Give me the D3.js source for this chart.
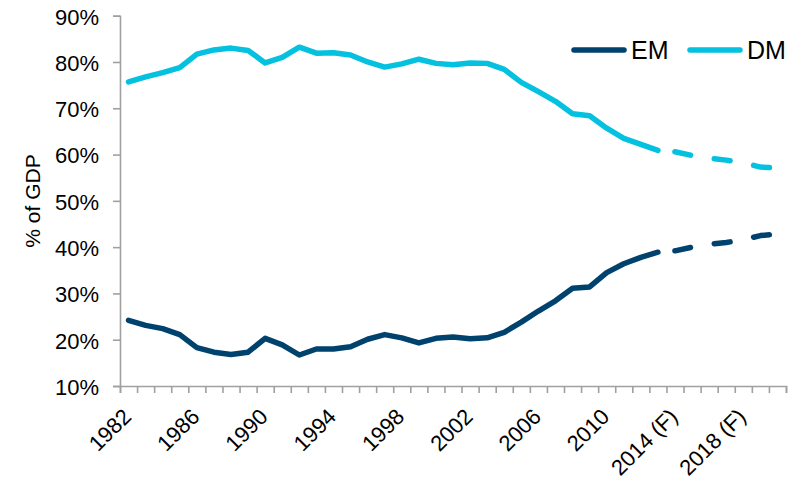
<!DOCTYPE html>
<html>
<head>
<meta charset="utf-8">
<script src="https://cdn.jsdelivr.net/npm/d3@7/dist/d3.min.js"></script>
<style>
  body { margin: 0; background: #fff; }
  svg { display: block; font-family: "Liberation Sans", Arial, sans-serif; }
  .axis path, .axis line { stroke: #a0a0a0; stroke-width: 1.6px; }
</style>
</head>
<body>
<script>
// Data, % of GDP
var years = d3.range(1982, 2021);
var forecastFrom = 2013;   // dashed part starts here
var tickLabels = ["1982", "1986", "1990", "1994", "1998", "2002", "2006", "2010", "2014 (F)", "2018 (F)"];
var yTicks = [10, 20, 30, 40, 50, 60, 70, 80, 90];

var em = [24.2, 23.1, 22.4, 21.1, 18.3, 17.3, 16.8, 17.3, 20.3, 18.9,
          16.7, 18.0, 18.0, 18.5, 20.1, 21.1, 20.4, 19.3, 20.3, 20.6,
          20.2, 20.4, 21.6, 23.8, 26.2, 28.4, 31.1, 31.4, 34.5, 36.4,
          37.8, 38.9, 39.2, 40.0, 40.6, 41.0, 41.6, 42.5, 42.8];
var dm = [75.7, 76.8, 77.7, 78.8, 81.7, 82.6, 83.0, 82.5, 79.8, 81.0,
          83.2, 81.9, 82.0, 81.5, 80.0, 78.9, 79.6, 80.6, 79.7, 79.4,
          79.8, 79.7, 78.4, 75.6, 73.6, 71.5, 68.8, 68.4, 65.7, 63.5,
          62.2, 60.9, 60.6, 59.8, 59.2, 58.8, 58.2, 57.3, 57.1];

var seriesNames = ["EM", "DM"];
var colors = ["#00426e", "#03c1df"];

//Define SVG
var width = 804, height = 481;
var svg = d3.select("body").append("svg")
    .attr("width", width)
    .attr("height", height);

//Define Scales (category axis, points sit between tick marks)
var xScale = d3.scaleLinear().domain([0, years.length]).range([120, 786]);
var yScale = d3.scaleLinear().domain([10, 90]).range([386, 15.7]);
function xPos(i) { return xScale(i + 0.5); }

//Define Axis
var xAxis = d3.axisBottom(xScale)
    .tickValues(d3.range(years.length + 1))
    .tickSize(7)
    .tickFormat("");
var yAxis = d3.axisLeft(yScale)
    .tickValues(yTicks)
    .tickSize(7)
    .tickFormat("");

svg.append("g")
    .attr("class", "x axis")
    .attr("transform", "translate(0," + yScale(10) + ")")
    .call(xAxis);

svg.append("g")
    .attr("class", "y axis")
    .attr("transform", "translate(" + xScale(0) + ",0)")
    .call(yAxis);

// y tick labels
svg.selectAll(".ylab")
    .data(yTicks)
    .enter().append("text")
    .attr("class", "ylab")
    .attr("x", 99)
    .attr("y", function(d) { return yScale(d); })
    .attr("dy", "0.4em")
    .style("text-anchor", "end")
    .attr("font-size", "22px")
    .attr("fill", "#000")
    .text(function(d) { return d + "%"; });

// x tick labels, rotated
svg.selectAll(".xlab")
    .data(tickLabels)
    .enter().append("text")
    .attr("class", "xlab")
    .attr("transform", function(d) {
        var i = years.indexOf(+d.slice(0, 4));
        return "translate(" + (xPos(i) + 4) + "," + (yScale(10) + 32) + ") rotate(-45)";
    })
    .style("text-anchor", "end")
    .attr("font-size", "22px")
    .attr("fill", "#000")
    .text(function(d) { return d; });

// y title
svg.append("text")
    .attr("transform", "translate(39.5,201) rotate(-90)")
    .style("text-anchor", "middle")
    .attr("font-size", "21px")
    .attr("fill", "#000")
    .text("% of GDP");

// Lines: solid history, dashed forecast
var line = d3.line()
    .x(function(d) { return xPos(d.i); })
    .y(function(d) { return yScale(d.v); });

var cut = years.indexOf(forecastFrom);

[em, dm].forEach(function(values, k) {
    var pts = values.map(function(v, i) { return {i: i, v: v}; });

    svg.append("path")
        .datum(pts.slice(0, cut + 1))
        .attr("d", line)
        .attr("fill", "none")
        .attr("stroke", colors[k])
        .attr("stroke-width", 5.5)
        .attr("stroke-linecap", "round")
        .attr("stroke-linejoin", "round");

    svg.append("path")
        .datum(pts.slice(cut))
        .attr("d", line)
        .attr("fill", "none")
        .attr("stroke", colors[k])
        .attr("stroke-width", 5.5)
        .attr("stroke-linecap", "round")
        .attr("stroke-linejoin", "round")
        .attr("stroke-dasharray", "16 24")
        .attr("stroke-dashoffset", 23);
});

// Legend
var legend = svg.selectAll(".legend")
    .data(seriesNames)
    .enter().append("g")
    .attr("class", "legend")
    .attr("transform", function(d, i) { return "translate(" + (574 + i * 116) + ",50)"; });

legend.append("line")
    .attr("x1", 0)
    .attr("x2", 50)
    .attr("stroke", function(d, i) { return colors[i]; })
    .attr("stroke-width", 5.5)
    .attr("stroke-linecap", "round");

legend.append("text")
    .attr("x", 57)
    .attr("y", 9)
    .attr("font-size", "25px")
    .attr("fill", "#000")
    .text(function(d) { return d; });
</script>
</body>
</html>
